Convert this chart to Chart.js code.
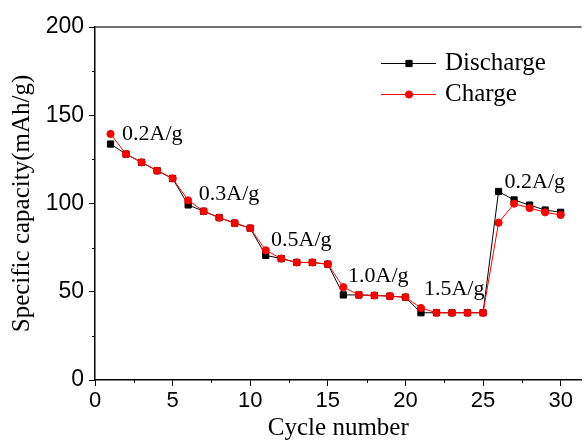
<!DOCTYPE html>
<html>
<head>
<meta charset="utf-8">
<script src="https://cdn.jsdelivr.net/npm/chart.js@4/dist/chart.umd.min.js"></script>
<style>
    html, body { margin: 0; padding: 0; background: #fff; }
    #wrap { width: 587px; height: 443px; position: relative; }
</style>
</head>
<body>
<div id="wrap"><canvas id="rateChart"></canvas></div>
<script>
const cycles = [1, 2, 3, 4, 5, 6, 7, 8, 9, 10, 11, 12, 13, 14, 15, 16, 17, 18, 19, 20, 21, 22, 23, 24, 25, 26, 27, 28, 29, 30];
const discharge = [133.7, 128.0, 123.3, 118.6, 114.2, 99.2, 95.6, 92.0, 88.9, 86.0, 70.6, 68.8, 66.6, 66.6, 65.6, 48.2, 48.2, 47.9, 47.5, 46.9, 38.1, 38.1, 38.1, 38.1, 38.1, 106.8, 102.0, 99.1, 96.3, 95.0];
const charge = [139.4, 128.0, 123.3, 118.6, 114.2, 101.8, 95.6, 92.0, 88.9, 86.0, 73.5, 68.8, 66.6, 66.6, 65.6, 52.6, 48.2, 47.9, 47.5, 46.9, 40.8, 38.1, 38.1, 38.1, 38.1, 89.1, 99.9, 97.4, 95.0, 93.5];
const xTicks = [0, 5, 10, 15, 20, 25, 30];
const yTicks = [0, 50, 100, 150, 200];
const rateLabels = ['0.2A/g', '0.3A/g', '0.5A/g', '1.0A/g', '1.5A/g', '0.2A/g'];

// where each current-density label sits, in (cycle, capacity) units
const rateLabelAnchors = [[1.74, 139.1], [6.69, 105.4], [11.34, 79.0], [16.3, 58.9], [21.19, 51.6], [26.39, 111.9]];

const serif = '"Liberation Serif", "Times New Roman", serif';
const sans = '"Liberation Sans", Arial, sans-serif';

// top frame, minor ticks, rate labels and the line+marker legend
const extras = {
    id: 'extras',
    afterDraw(chart) {
        const ctx = chart.ctx;
        const area = chart.chartArea;
        const xs = chart.scales.x;
        const ys = chart.scales.y;
        ctx.save();

        ctx.strokeStyle = '#444';
        ctx.lineWidth = 1.5;
        ctx.beginPath();
        ctx.moveTo(area.left, area.top);
        ctx.lineTo(area.right, area.top);
        ctx.stroke();

        ctx.strokeStyle = '#000';
        ctx.lineWidth = 1;
        ctx.beginPath();
        for (let i = 0; i < xTicks.length; i++) {
            const px = Math.round(xs.getPixelForValue(xTicks[i] + 2.5)) + 0.5;
            if (px > area.right) continue;
            ctx.moveTo(px, area.bottom);
            ctx.lineTo(px, area.bottom + 3);
        }
        for (let i = 0; i < yTicks.length - 1; i++) {
            const py = Math.round(ys.getPixelForValue(yTicks[i] + 25)) + 0.5;
            ctx.moveTo(area.left, py);
            ctx.lineTo(area.left - 3, py);
        }
        ctx.stroke();

        ctx.fillStyle = '#000';
        ctx.font = '22px ' + serif;
        ctx.textAlign = 'left';
        ctx.textBaseline = 'middle';
        rateLabels.forEach((text, i) => {
            const a = rateLabelAnchors[i];
            ctx.fillText(text, xs.getPixelForValue(a[0]), ys.getPixelForValue(a[1]));
        });

        // legend: Discharge first, then Charge
        const legendOrder = [1, 0];
        legendOrder.forEach((dsIndex, row) => {
            const ds = chart.data.datasets[dsIndex];
            const y = 63.5 + row * 31;
            ctx.strokeStyle = ds.borderColor;
            ctx.fillStyle = ds.pointBackgroundColor;
            ctx.lineWidth = 1;
            ctx.beginPath();
            ctx.moveTo(381, y);
            ctx.lineTo(436, y);
            ctx.stroke();
            Chart.helpers.drawPoint(ctx, {
                pointStyle: ds.pointStyle,
                radius: ds.pointRadius,
                rotation: 0,
                borderWidth: ds.pointBorderWidth
            }, 409, y);
            ctx.fillStyle = '#000';
            ctx.font = '25px ' + serif;
            ctx.fillText(ds.label, 445, y);
        });

        ctx.restore();
    }
};

const ctx = document.getElementById('rateChart').getContext('2d');
new Chart(ctx, {
    type: 'line',
    data: {
        labels: cycles,
        datasets: [{
            label: 'Charge',
            data: cycles.map((c, i) => ({ x: c, y: charge[i] })),
            borderColor: '#ff0000',
            backgroundColor: '#ff0000',
            borderWidth: 1,
            pointStyle: 'circle',
            pointRadius: 3.6,
            pointBackgroundColor: '#ff0000',
            pointBorderColor: '#ff0000',
            pointBorderWidth: 1,
            tension: 0,
            order: 0
        }, {
            label: 'Discharge',
            data: cycles.map((c, i) => ({ x: c, y: discharge[i] })),
            borderColor: '#000000',
            backgroundColor: '#000000',
            borderWidth: 1,
            pointStyle: 'rect',
            pointRadius: 4.4,
            pointBackgroundColor: '#000000',
            pointBorderColor: '#000000',
            pointBorderWidth: 1,
            tension: 0,
            order: 1
        }]
    },
    options: {
        responsive: true,
        maintainAspectRatio: false,
        animation: false,
        layout: { padding: { top: 27, right: 0, left: 0, bottom: 0 } },
        plugins: {
            legend: { display: false },
            tooltip: { enabled: false }
        },
        scales: {
            x: {
                type: 'linear',
                min: 0,
                max: 31.35,
                afterBuildTicks: function(scale) {
                    scale.ticks = xTicks.map(v => ({ value: v }));
                },
                afterFit: function(scale) { scale.height = 63; },
                ticks: {
                    color: '#000',
                    font: { family: sans, size: 22 },
                    padding: 2,
                    maxRotation: 0,
                    autoSkip: false
                },
                grid: {
                    drawOnChartArea: false,
                    drawTicks: true,
                    tickLength: 6,
                    color: '#000'
                },
                border: { display: true, color: '#000', width: 1.5 },
                title: {
                    display: true,
                    text: 'Cycle number',
                    color: '#000',
                    font: { family: serif, size: 25, lineHeight: 1.2 },
                    padding: { top: 0, bottom: 0 }
                }
            },
            y: {
                min: 0,
                max: 200,
                afterBuildTicks: function(scale) {
                    scale.ticks = yTicks.map(v => ({ value: v }));
                },
                afterFit: function(scale) { scale.width = 95; },
                ticks: {
                    color: '#000',
                    font: { family: sans, size: 23 },
                    padding: 5
                },
                grid: {
                    drawOnChartArea: false,
                    drawTicks: true,
                    tickLength: 6,
                    color: '#000'
                },
                border: { display: true, color: '#000', width: 1.5 },
                title: {
                    display: true,
                    text: 'Specific capacity(mAh/g)',
                    color: '#000',
                    font: { family: serif, size: 25, lineHeight: 1.2 },
                    padding: { top: 7, bottom: 0 }
                }
            }
        }
    },
    plugins: [extras]
});
</script>
</body>
</html>
